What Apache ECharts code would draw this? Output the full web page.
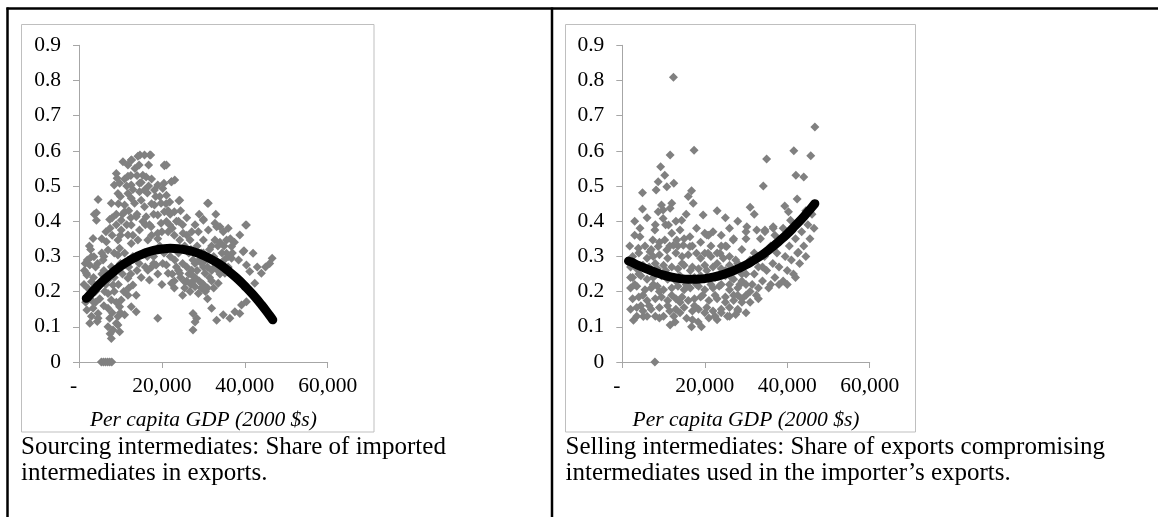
<!DOCTYPE html>
<html>
<head>
<meta charset="utf-8">
<script src="https://cdn.jsdelivr.net/npm/echarts@6/dist/echarts.min.js"></script>
<style>
html,body{margin:0;padding:0;background:#fff;}
#chart{width:1158px;height:517px;}
</style>
</head>
<body>
<div id="chart"></div>
<script>
// ---- data (x: per capita GDP in 2000 $, y: share) ----
const xTickValues = [0, 20000, 40000, 60000];
const xTickLabels = ['-  ', '20,000', '40,000', '60,000'];
const yTickLabels = ['0', '0.1', '0.2', '0.3', '0.4', '0.5', '0.6', '0.7', '0.8', '0.9'];
const xAxisTitle = 'Per capita GDP (2000 $s)';
const leftCaption = 'Sourcing intermediates: Share of imported\nintermediates in exports.';
const rightCaption = 'Selling intermediates: Share of exports compromising\nintermediates used in the importer\u2019s exports.';

const leftScatter = [
[10600,0.569],[12600,0.574],[14200,0.585],[15800,0.588],[17300,0.588],[11800,0.56],[16800,0.56],[20600,0.56],[9000,0.536],[11800,0.528],[15400,0.531],[9800,0.508],[12600,0.503],[14600,0.508],[16200,0.526],[19000,0.503],[20500,0.508],[9400,0.479],[11800,0.479],[12600,0.465],[14600,0.484],[15800,0.489],[18200,0.489],[20200,0.493],[4600,0.462],[7800,0.451],[11000,0.446],[13400,0.451],[15800,0.441],[18200,0.446],[19800,0.451],[4200,0.424],[11000,0.427],[13800,0.413],[16200,0.413],[19000,0.418],[20600,0.427],[4200,0.403],[7400,0.405],[10200,0.403],[12600,0.389],[15400,0.399],[17400,0.384],[19800,0.394],[10200,0.375],[11800,0.361],[14600,0.375],[16600,0.347],[19000,0.366],[3400,0.351],[6600,0.342],[7000,0.318],[9400,0.347],[9800,0.323],[12600,0.337],[14200,0.347],
[8500,0.503],[9200,0.522],[12700,0.574],[14700,0.588],[17100,0.588],[20600,0.558],[24300,0.46],[22300,0.512],[23100,0.517],[31200,0.451],[30000,0.403],[33200,0.384],[38800,0.361],[40400,0.389],[39800,0.316],[46600,0.295],[3600,0.299],[3700,0.42],
[21100,0.56],[22300,0.512],[21100,0.474],[21900,0.455],[24100,0.458],[23000,0.427],[31000,0.451],[21100,0.399],[21900,0.389],[30000,0.406],[32800,0.394],[34000,0.384],[40200,0.389],[25100,0.366],[27200,0.37],[28800,0.37],[31200,0.375],[34800,0.37],[24300,0.347],[26800,0.347],[30000,0.347],[32800,0.347],[35600,0.347],[36800,0.328],[42000,0.309],
[3000,0.299],[5800,0.29],[9400,0.304],[2600,0.276],[7800,0.271],[1800,0.252],[11400,0.276],[16600,0.261],[18600,0.276],[20200,0.28],[3000,0.228],[7000,0.233],[8200,0.219],[11800,0.238],[13000,0.219],[17000,0.233],[2200,0.19],[3400,0.171],[7000,0.195],[7800,0.176],[10200,0.176],[11800,0.19],[13800,0.19],[3400,0.153],[4600,0.138],[7000,0.153],[9800,0.157],[12600,0.157],[13800,0.143],[19000,0.124],[7400,0.124],[9400,0.129],[11000,0.134],[7000,0.1],[8200,0.091],[7800,0.067],[9400,0.105],[9800,0.086],
[5400,0],[5900,0],[6400,0],[6900,0],[7400,0],[7900,0],
[1900,0.247],[2200,0.209],[1900,0.148],[4600,0.124],[4400,0.115],[1500,0.28],[1200,0.22],[2500,0.33],[1600,0.17],
[21100,0.276],[23100,0.29],[21500,0.252],[24300,0.252],[27200,0.261],[29600,0.28],[30400,0.252],[22300,0.224],[25500,0.228],[28000,0.214],[29600,0.224],[26800,0.2],[28800,0.195],[32000,0.153],[27500,0.138],[28400,0.124],[28000,0.114],[33200,0.119],[34800,0.134],[36400,0.124],[37600,0.143],[39200,0.162],[40400,0.171],[38800,0.138],[35600,0.309],[39600,0.313],[36800,0.295],[40400,0.276],[41200,0.257],[42400,0.224],[44000,0.252],[35200,0.252],[32800,0.271],[33600,0.224],[27500,0.091],
[22500,0.38],[24000,0.40],[25500,0.33],[26500,0.31],[27500,0.29],[28500,0.33],[29500,0.31],[30500,0.29],[31500,0.32],[32500,0.30],[33500,0.33],[34500,0.31],[23500,0.27],[24500,0.24],[25500,0.21],[26500,0.25],[27500,0.23],[28500,0.26],[29500,0.21],[30500,0.20],[31500,0.24],[32500,0.21],[33500,0.26],[34500,0.28],[36000,0.27],[23000,0.21],[25000,0.19],[27000,0.22],[31000,0.18],[32000,0.26],[30000,0.27],[45000,0.27],[46000,0.28],[43000,0.27],[22000,0.3],[26000,0.36],[28000,0.39],[24500,0.43],[26000,0.41],[29000,0.42],[33000,0.42],[36000,0.38],[37500,0.34],[38500,0.29],
[18000,0.30],[19500,0.33],[13000,0.30],[14500,0.28],[15500,0.31],[16500,0.30],[17500,0.27],[19000,0.25],[20000,0.22],[15000,0.24],[12000,0.27],[10500,0.25],[9000,0.26],[10000,0.28],[8500,0.24],[6000,0.26],[5000,0.22],[4000,0.27],[5500,0.31],[8000,0.36],[9000,0.39],[10500,0.42],[12000,0.43],[13000,0.49],[11000,0.52],[14000,0.53],[17500,0.45],[16800,0.5],[18000,0.42],[21500,0.43],[20000,0.37],[23000,0.36],[17000,0.39],[13000,0.36],[15000,0.46],[20500,0.31],[10800,0.2],[9000,0.17],[6200,0.2],[5000,0.18],[2800,0.32],[3500,0.24],[4500,0.28],
[9500,0.45],[10000,0.47],[11500,0.50],[12500,0.53],[13500,0.55],[14500,0.56],[15000,0.51],[16500,0.48],[17500,0.52],[18500,0.47],[19500,0.47],[21000,0.45],[22000,0.42],[23500,0.40],[25000,0.39],[21500,0.37],[19000,0.35],[17500,0.36],[16000,0.39],[14000,0.42],[12500,0.41],[11500,0.39],[10000,0.36],[9000,0.42],[8000,0.41],[7500,0.38],[6500,0.37],[5500,0.35],[6000,0.30],[8500,0.31],[11000,0.31],[24000,0.31],[25000,0.28],[26000,0.27],[27000,0.32],[28000,0.28],[29000,0.29],[30000,0.31],[31000,0.27],[32000,0.33],[33000,0.29],[34000,0.34],[35000,0.33],[36500,0.35],[37000,0.31],[22500,0.25],[23000,0.23],[24000,0.26],[26000,0.23],[27000,0.25],[28000,0.24],[29000,0.23],[30000,0.22],[31000,0.21],[32000,0.23],[34000,0.25],[35000,0.29],[36000,0.3],[2000,0.29],[1300,0.26],[4000,0.2],[5500,0.25],[6500,0.22],[8500,0.2],[9500,0.22],[12500,0.25],[14000,0.26],[16000,0.27],[18000,0.28],[10000,0.14],[8000,0.14],[6000,0.16],[3000,0.13],[2600,0.11],[4000,0.17],[12000,0.21],[7500,0.08],[9000,0.11]
];

const leftTrend = [
[1750,0.181],[2000,0.183],[4000,0.209],[6000,0.233],[8000,0.253],[10000,0.272],[12000,0.287],[14000,0.300],[16000,0.310],[18000,0.317],[20000,0.321],[22000,0.323],[24000,0.322],[26000,0.318],[28000,0.312],[30000,0.303],[32000,0.291],[34000,0.277],[36000,0.259],[38000,0.239],[40000,0.216],[42000,0.191],[44000,0.163],[46000,0.132],[46750,0.120]
];

const rightScatter = [
[12400,0.809],[20900,0.36],
[17400,0.602],[11600,0.588],[9300,0.555],[10300,0.531],[8700,0.512],[10800,0.498],[12500,0.508],[4900,0.481],[8200,0.489],[16800,0.487],[16000,0.47],[17200,0.451],[4900,0.435],[9500,0.446],[12000,0.451],[8700,0.427],[9900,0.432],[11600,0.437],[19600,0.418],[9900,0.408],[14400,0.403],[11200,0.389],[4300,0.38],[7900,0.375],[12000,0.366],[14000,0.375],[16400,0.356],[4300,0.356],[7400,0.347],[10300,0.347],[13200,0.347],[20500,0.361],[3900,0.323],[6700,0.313],[8700,0.328],[10800,0.318],[12400,0.332],[14800,0.332],[16400,0.328],[18000,0.309],[20000,0.309],
[35000,0.577],[34200,0.5],[31000,0.44],[46700,0.668],[41600,0.6],[45700,0.586],[42100,0.531],[44000,0.526],[42400,0.463],[39400,0.443],[40300,0.427],[40800,0.403],[36600,0.38],[34600,0.375],[42700,0.312],
[30200,0.384],[32600,0.375],[34600,0.37],[36600,0.384],[26900,0.347],[25300,0.328],[23700,0.309],[20000,0.366],[20800,0.309],
[7900,0],
[2500,0.30],[4000,0.31],[6000,0.295],[7500,0.30],[9000,0.305],[11000,0.295],[13000,0.31],[14500,0.30],[16000,0.305],[19000,0.295],[21500,0.30],[23000,0.31],[24500,0.295],
[2000,0.27],[3500,0.265],[5000,0.275],[6500,0.27],[8500,0.265],[10000,0.275],[12000,0.27],[13500,0.265],[15000,0.275],[17000,0.27],[18500,0.265],[20000,0.275],[22000,0.27],[24000,0.265],[26000,0.275],[27500,0.29],
[2500,0.24],[4500,0.245],[6000,0.235],[7500,0.24],[9500,0.245],[11000,0.235],[12500,0.24],[14000,0.245],[16000,0.235],[17500,0.24],[19000,0.245],[21000,0.235],[22500,0.24],[25000,0.245],[27000,0.235],[29000,0.25],
[2000,0.21],[3500,0.215],[5500,0.205],[7000,0.21],[8500,0.215],[10000,0.205],[12000,0.21],[13500,0.215],[15000,0.205],[16500,0.21],[18500,0.215],[20000,0.205],[22000,0.21],[23500,0.215],[26000,0.205],[28000,0.21],[30000,0.22],
[2500,0.18],[4000,0.185],[6000,0.175],[8000,0.18],[9500,0.185],[11000,0.175],[13000,0.18],[14500,0.185],[16000,0.175],[17500,0.18],[19000,0.185],[21000,0.175],[23000,0.18],[25000,0.185],[27000,0.175],[29000,0.18],
[2000,0.15],[3500,0.155],[5000,0.145],[7000,0.15],[9000,0.155],[11500,0.145],[13000,0.15],[15000,0.155],[17000,0.145],[18500,0.15],[20500,0.155],[22000,0.145],[24000,0.15],[26000,0.155],[28000,0.145],
[2700,0.119],[5100,0.129],[9000,0.125],[11600,0.105],[12800,0.114],[15600,0.124],[16800,0.1],[18400,0.114],[19200,0.1],[21000,0.125],[23000,0.12],[25500,0.13],[27500,0.135],
[25000,0.33],[26000,0.30],[27000,0.35],[28000,0.28],[29000,0.32],[30000,0.25],[30000,0.35],[31000,0.29],[31500,0.22],[32000,0.31],[32500,0.19],[33000,0.27],[33500,0.35],[34000,0.23],[34500,0.30],[35000,0.26],[35500,0.21],[36000,0.33],[36500,0.28],[37000,0.24],[37500,0.31],[38000,0.27],[38500,0.35],[39000,0.23],[39500,0.30],[40000,0.26],[40500,0.33],[41000,0.29],[41500,0.25],[42000,0.35],[42500,0.31],[43000,0.28],[43500,0.37],[44000,0.33],[44500,0.30],[45000,0.39],[45500,0.35],[46000,0.42],[46500,0.38],
[28000,0.15],[29000,0.17],[30000,0.14],[31000,0.17],[26000,0.13],[27000,0.19],[33000,0.21],[36000,0.22],[24000,0.14],[25000,0.17],[28500,0.22],[26500,0.24],[29500,0.27],
[22000,0.37],[24000,0.36],[26000,0.38],[28000,0.40],[30000,0.37],[32000,0.42],[25000,0.41],[23000,0.43],[18000,0.38],[15500,0.42],[6000,0.41],[3000,0.28],[1800,0.33],[2000,0.24],[3000,0.36],
[3000,0.22],[4000,0.25],[5000,0.19],[6500,0.16],[7500,0.22],[8000,0.28],[9000,0.2],[10500,0.26],[11000,0.16],[12000,0.19],[13000,0.23],[14000,0.17],[14500,0.28],[15500,0.22],[16500,0.26],[17500,0.16],[18000,0.22],[19500,0.19],[20500,0.26],[21500,0.22],[22500,0.19],[23000,0.28],[24000,0.22],[25000,0.26],[26000,0.22],[27000,0.26],[28000,0.19],[29000,0.23],[30000,0.19],[31000,0.2],[32000,0.25],[33000,0.18],[34000,0.27],[3500,0.13],[4500,0.16],[6000,0.13],[8000,0.13],[10000,0.13],[12500,0.13],[14000,0.14],[17000,0.12],[20000,0.14],[22500,0.13],[5500,0.33],[7000,0.32],[9000,0.34],[11500,0.33],[13500,0.33],[15000,0.35],[17000,0.33],[19000,0.34],[21500,0.33],[24000,0.33],[8000,0.39],[10500,0.39],[13000,0.4],[3000,0.4],[37000,0.36],[39000,0.38],[41000,0.37],[43000,0.4],[44500,0.43],[38000,0.22],[40000,0.22],[42000,0.24]
];

const rightTrend = [
[1500,0.287],[2000,0.285],[4000,0.274],[6000,0.264],[8000,0.255],[10000,0.247],[12000,0.241],[14000,0.237],[16000,0.235],[18000,0.235],[20000,0.237],[22000,0.241],[24000,0.247],[26000,0.255],[28000,0.265],[30000,0.276],[32000,0.290],[34000,0.305],[36000,0.323],[38000,0.343],[40000,0.364],[42000,0.388],[44000,0.413],[46000,0.440],[46700,0.450]
];

// ---- styling / layout ----
const FONT = 'Liberation Serif';
const AXIS_COLOR = '#a6a6a6';
const BOX_COLOR = '#bfbfbf';
const PT_COLOR = '#808080';

function makeX(gi) {
  return {
    gridIndex: gi, type: 'value', min: 0, max: 60000, interval: 20000,
    axisLine: { show: true, onZero: false, lineStyle: { color: AXIS_COLOR, width: 1 } },
    axisTick: { show: true, length: 6, inside: false, lineStyle: { color: AXIS_COLOR } },
    splitLine: { show: false },
    axisLabel: {
      margin: 13, color: '#000', fontFamily: FONT, fontSize: 21.5,
      formatter: v => xTickLabels[xTickValues.indexOf(Math.round(v))] || ''
    },
    name: xAxisTitle, nameLocation: 'middle', nameGap: 47,
    nameTextStyle: { color: '#000', fontFamily: FONT, fontStyle: 'italic', fontSize: 21.5 }
  };
}
function makeY(gi) {
  return {
    gridIndex: gi, type: 'value', min: 0, max: 0.9, interval: 0.1,
    axisLine: { show: true, onZero: false, lineStyle: { color: AXIS_COLOR, width: 1 } },
    axisTick: { show: true, length: 6, inside: false, lineStyle: { color: AXIS_COLOR } },
    splitLine: { show: false },
    axisLabel: {
      margin: 18, color: '#000', fontFamily: FONT, fontSize: 21.5,
      formatter: v => yTickLabels[Math.round(v * 10)]
    }
  };
}
function scatterSeries(gi, data) {
  return {
    type: 'scatter', xAxisIndex: gi, yAxisIndex: gi, data: data,
    symbol: 'diamond', symbolSize: 9, itemStyle: { color: PT_COLOR, opacity: 1 },
    animation: false, silent: true
  };
}
function trendSeries(gi, data) {
  return {
    type: 'line', xAxisIndex: gi, yAxisIndex: gi, data: data, smooth: true,
    showSymbol: false, symbol: 'none', lineStyle: { color: '#000', width: 9, cap: 'round', join: 'round' },
    z: 5, animation: false, silent: true
  };
}

const chart = echarts.init(document.getElementById('chart'), null, { renderer: 'canvas' });
chart.setOption({
  backgroundColor: '#fff',
  animation: false,
  grid: [
    { left: 79, top: 45.3, width: 248.7, height: 316.7, containLabel: false, outerBoundsMode: 'none' },
    { left: 622.3, top: 45.3, width: 247.4, height: 316.7, containLabel: false, outerBoundsMode: 'none' }
  ],
  xAxis: [makeX(0), makeX(1)],
  yAxis: [makeY(0), makeY(1)],
  series: [scatterSeries(0, leftScatter), trendSeries(0, leftTrend), scatterSeries(1, rightScatter), trendSeries(1, rightTrend)],
  graphic: [
    { type: 'line', shape: { x1: 6.5, y1: 8.5, x2: 1158, y2: 8.5 }, style: { stroke: '#000', lineWidth: 2.5 }, silent: true },
    { type: 'line', shape: { x1: 7.5, y1: 7.5, x2: 7.5, y2: 517 }, style: { stroke: '#000', lineWidth: 2.5 }, silent: true },
    { type: 'line', shape: { x1: 552, y1: 7.5, x2: 552, y2: 517 }, style: { stroke: '#000', lineWidth: 2.5 }, silent: true },
    { type: 'rect', shape: { x: 21.5, y: 24.5, width: 352.5, height: 407.5 }, style: { stroke: BOX_COLOR, fill: null, lineWidth: 1 }, silent: true },
    { type: 'rect', shape: { x: 565.5, y: 24.5, width: 350, height: 407.5 }, style: { stroke: BOX_COLOR, fill: null, lineWidth: 1 }, silent: true },
    { type: 'text', x: 21, y: 460, style: { text: leftCaption, font: '25px "Liberation Serif"', fill: '#000', lineHeight: 26, verticalAlign: 'middle' }, silent: true },
    { type: 'text', x: 565.5, y: 460, style: { text: rightCaption, font: '25px "Liberation Serif"', fill: '#000', lineHeight: 26, verticalAlign: 'middle' }, silent: true }
  ]
});
</script>
</body>
</html>
